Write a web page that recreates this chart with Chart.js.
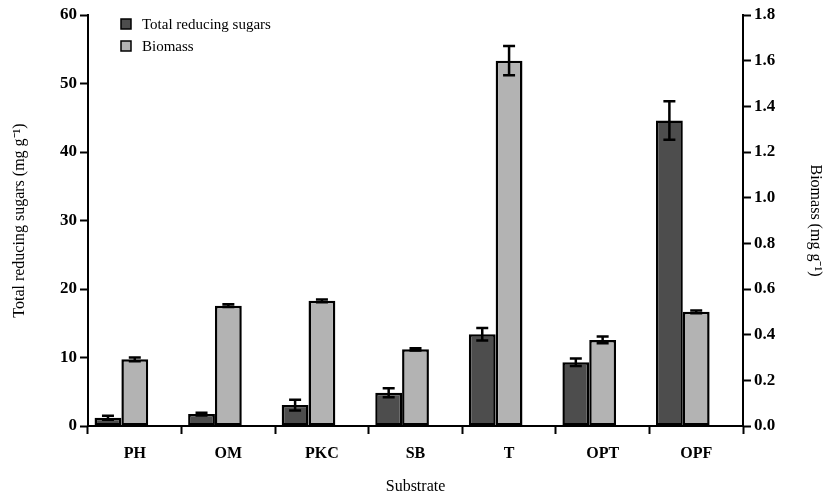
<!DOCTYPE html>
<html lang="en">
<head>
    <meta charset="UTF-8">
    <title>Total reducing sugars and biomass by substrate</title>
    <script src="https://cdn.jsdelivr.net/npm/chart.js"></script>
    <style>
        body {
            margin: 0;
            background: white;
        }

        #wrap {
            width: 825px;
            height: 496px;
        }
    </style>
</head>
<body>
<div id="wrap"><canvas id="sugarChart"></canvas></div>

<script>
    const substrates = ['PH', 'OM', 'PKC', 'SB', 'T', 'OPT', 'OPF'];

    // mg/g, left axis
    const sugars = [1.2, 1.75, 3.05, 4.85, 13.4, 9.3, 44.6];
    const sugarsErr = [0.3, 0.2, 0.8, 0.65, 0.9, 0.55, 2.8];

    // mg/g, right axis
    const biomass = [0.292, 0.527, 0.548, 0.336, 1.6, 0.377, 0.5];
    const biomassErr = [0.008, 0.006, 0.006, 0.005, 0.064, 0.015, 0.006];

    const leftTicks = [0, 10, 20, 30, 40, 50, 60];
    const rightTicks = [0, 0.2, 0.4, 0.6, 0.8, 1.0, 1.2, 1.4, 1.6, 1.8];

    const serif = '"Liberation Serif", "Times New Roman", serif';
    const darkGrey = '#4d4d4d';
    const lightGrey = '#b3b3b3';

    // error bars drawn on top of the bars
    const errorBars = {
        id: 'errorBars',
        afterDatasetsDraw(chart) {
            const ctx = chart.ctx;
            const errs = [sugarsErr, biomassErr];
            ctx.save();
            ctx.strokeStyle = 'black';
            ctx.lineWidth = 2.5;
            [0, 1].forEach(i => {
                const ds = chart.data.datasets[i];
                const scale = chart.scales[ds.yAxisID];
                chart.getDatasetMeta(i).data.forEach((bar, j) => {
                    const v = ds.data[j];
                    const top = scale.getPixelForValue(v + errs[i][j]);
                    const bot = scale.getPixelForValue(v - errs[i][j]);
                    ctx.beginPath();
                    ctx.moveTo(bar.x, top);
                    ctx.lineTo(bar.x, bot);
                    ctx.moveTo(bar.x - 6, top);
                    ctx.lineTo(bar.x + 6, top);
                    ctx.moveTo(bar.x - 6, bot);
                    ctx.lineTo(bar.x + 6, bot);
                    ctx.stroke();
                });
            });
            ctx.restore();
        }
    };

    // legend inside the plot, top left
    const insideLegend = {
        id: 'insideLegend',
        afterDraw(chart) {
            const ctx = chart.ctx;
            const x = chart.chartArea.left + 33;
            const y = chart.chartArea.top + 9;
            ctx.save();
            ctx.font = '15px ' + serif;
            ctx.textBaseline = 'middle';
            [0, 1].forEach(i => {
                const ds = chart.data.datasets[i];
                const yy = y + i * 22;
                ctx.fillStyle = ds.backgroundColor;
                ctx.fillRect(x, yy - 5, 10, 10);
                ctx.strokeStyle = 'black';
                ctx.lineWidth = 1.5;
                ctx.strokeRect(x, yy - 5, 10, 10);
                ctx.fillStyle = 'black';
                ctx.fillText(ds.label, x + 21, yy + 1);
            });
            ctx.restore();
        }
    };

    const ctx = document.getElementById('sugarChart').getContext('2d');

    new Chart(ctx, {
        type: 'bar',
        data: {
            labels: substrates,
            datasets: [
                {
                    label: 'Total reducing sugars',
                    data: sugars,
                    yAxisID: 'y',
                    backgroundColor: darkGrey,
                    borderColor: 'black',
                    borderWidth: 2.5,
                    borderSkipped: false
                },
                {
                    label: 'Biomass',
                    data: biomass,
                    yAxisID: 'y2',
                    backgroundColor: lightGrey,
                    borderColor: 'black',
                    borderWidth: 2.5,
                    borderSkipped: false
                },
                {
                    // empty slot, pushes the pair left of the category centre like the original
                    label: '',
                    data: substrates.map(() => null),
                    yAxisID: 'y'
                }
            ]
        },
        options: {
            responsive: true,
            maintainAspectRatio: false,
            animation: false,
            categoryPercentage: 0.86,
            barPercentage: 1.0,
            layout: {
                padding: { top: 15, left: 0, right: 0, bottom: 0 }
            },
            plugins: {
                legend: { display: false },
                tooltip: { enabled: false }
            },
            scales: {
                x: {
                    offset: true,
                    afterFit: s => { s.height = 70; },
                    border: { color: 'black', width: 2 },
                    grid: {
                        offset: true,
                        drawOnChartArea: false,
                        tickLength: 8,
                        tickColor: 'black',
                        tickWidth: 2
                    },
                    ticks: {
                        color: 'black',
                        padding: 10,
                        font: { family: serif, size: 16, weight: 'bold' }
                    },
                    title: {
                        display: true,
                        text: 'Substrate',
                        color: 'black',
                        padding: { top: 4, bottom: 0 },
                        font: { family: serif, size: 16 }
                    }
                },
                y: {
                    position: 'left',
                    min: 0,
                    max: 60,
                    afterFit: s => { s.width = 88; },
                    afterBuildTicks: s => { s.ticks = leftTicks.map(v => ({ value: v })); },
                    border: { color: 'black', width: 2 },
                    grid: {
                        drawOnChartArea: false,
                        tickLength: 8,
                        tickColor: 'black',
                        tickWidth: 2
                    },
                    ticks: {
                        color: 'black',
                        padding: 3,
                        font: { family: serif, size: 17, weight: 'bold' }
                    },
                    title: {
                        display: true,
                        text: 'Total reducing sugars (mg g\u207B\u00B9)',
                        color: 'black',
                        padding: { top: 10, bottom: 4 },
                        font: { family: serif, size: 16 }
                    }
                },
                y2: {
                    position: 'right',
                    min: 0,
                    max: 1.8,
                    afterFit: s => { s.width = 82; },
                    afterBuildTicks: s => { s.ticks = rightTicks.map(v => ({ value: v })); },
                    border: { color: 'black', width: 2 },
                    grid: {
                        drawOnChartArea: false,
                        tickLength: 8,
                        tickColor: 'black',
                        tickWidth: 2
                    },
                    ticks: {
                        color: 'black',
                        padding: 3,
                        callback: v => v.toFixed(1),
                        font: { family: serif, size: 17, weight: 'bold' }
                    },
                    title: {
                        display: true,
                        text: 'Biomass (mg g\u207B\u00B9)',
                        color: 'black',
                        padding: { top: 0, bottom: 0 },
                        font: { family: serif, size: 16 }
                    }
                }
            }
        },
        plugins: [errorBars, insideLegend]
    });
</script>

</body>
</html>
